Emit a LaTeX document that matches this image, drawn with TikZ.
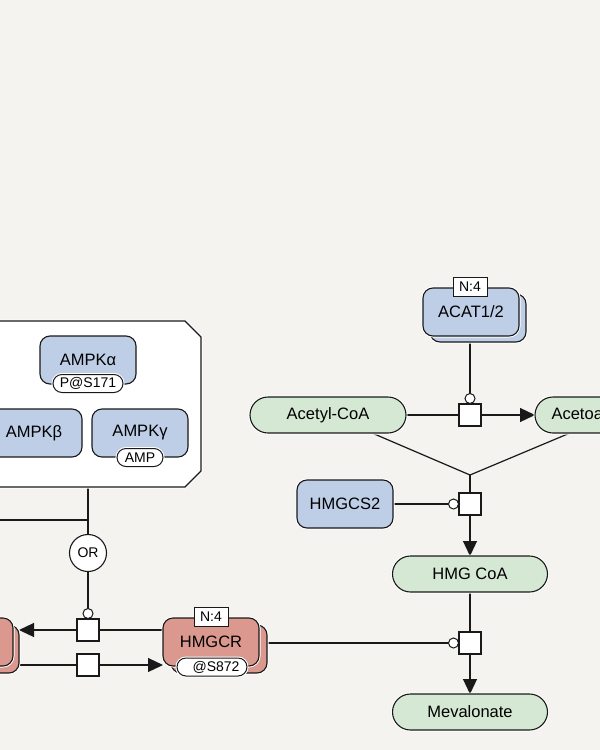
\documentclass[tikz,border=0pt]{standalone}
\usepackage{fontspec}
\setmainfont{Liberation Sans}
\usetikzlibrary{arrows.meta,shapes.misc,backgrounds,calc}
\definecolor{bgc}{RGB}{244,243,240}
\definecolor{bluef}{RGB}{189,206,230}
\definecolor{greenf}{RGB}{212,232,212}
\definecolor{redf}{RGB}{219,152,142}
\definecolor{strk}{RGB}{25,25,25}
\begin{document}
\begin{tikzpicture}[x=1pt,y=-1pt,
  every node/.style={inner sep=0pt, outer sep=0pt, font=\fontsize{16.5}{19}\selectfont, text=black},
  halo/.style={preaction={draw=white,line width=3pt}},
  macro/.style={draw=strk, line width=1.1pt, rounded corners=10pt, minimum width=96pt, minimum height=48pt, halo},
  protein/.style={macro, fill=bluef},
  enzyme/.style={macro, fill=redf},
  metab/.style={draw=strk, line width=1.1pt, rounded rectangle, fill=greenf, minimum width=156pt, minimum height=36pt, halo},
  svar/.style={draw=strk, line width=1pt, rounded rectangle, fill=white, minimum width=70pt, minimum height=18pt, font=\fontsize{14}{16}\selectfont, halo},
  ulabel/.style={draw=strk, line width=1pt, fill=white, minimum width=34pt, minimum height=19pt, font=\fontsize{14}{16}\selectfont},
  procbox/.style={draw=strk, line width=1.1pt, fill=white, minimum size=22pt},
  logic/.style={draw=strk, line width=1.1pt, circle, fill=white, minimum size=37pt, font=\fontsize{14}{16}\selectfont},
  conn/.style={draw=strk, line width=1.2pt},
  prod/.style={conn, -{Triangle[length=15pt,width=14pt]}},
  catal/.style={conn, -{Circle[length=11pt,fill=white,line width=1pt]}},
]
\begin{scope}[on background layer]
\fill[bgc] (0,0) rectangle (600,750);
\end{scope}
\useasboundingbox (0,0) rectangle (600,750);

% complex
\draw[draw=strk, line width=1.1pt, fill=white, halo] (-10,321) -- (185,321) -- (201,337) -- (201,471) -- (185,487) -- (-10,487) -- cycle;
\coordinate (cx) at (88,487);
\node[protein] (ampka) at (88,360) {AMPKα};
\node[svar] (ampkasv) at (88,383.5) {P@S171};
\node[protein] (ampkb) at (34,433) {AMPKβ};
\node[protein] (ampkg) at (140,433) {AMPKγ};
\node[svar, minimum width=46pt] (ampkgsv) at (140,457.5) {AMP};

% logic
\node[logic] (or) at (88,553) {OR};
\coordinate (j1) at (88,520);
\coordinate (lft1) at (-5,520);

% process nodes
\node[procbox] (p1) at (470,415) {};
\node[procbox] (p2) at (470,504) {};
\node[procbox] (p3) at (470,643) {};
\node[procbox] (p4) at (88,630) {};
\node[procbox] (p5) at (88,665) {};
\coordinate (j2) at (470,475);

% left enzyme multimer
\node[enzyme] (leftb) at (-29,649) {};
\node[enzyme] (left) at (-35,642) {};

% HMGCR
\node[enzyme] (hmgcrb) at (219,649) {};
\node[enzyme] (hmgcr) at (211,642) {HMGCR};
\node[ulabel] (hmgcrn) at (211,617) {N:4};
\node[svar] (hmgcrsv) at (212,667) {\hspace{8pt}@S872};

% ACAT
\node[protein] (acatb) at (478,318) {};
\node[protein] (acat) at (471,312) {ACAT1/2};
\node[ulabel] (acatn) at (470,287) {N:4};

% metabolites
\node[metab] (acetyl) at (328,415) {Acetyl-CoA};
\node[metab] (acetoac) at (613,415) {Acetoacetyl-CoA};
\node[protein] (hmgcs2) at (345,504) {HMGCS2};
\node[metab, minimum width=155pt] (hmgcoa) at (470,574) {HMG CoA};
\node[metab, minimum width=155pt] (meval) at (470,712) {Mevalonate};

% connectors
\begin{scope}[on background layer]
\draw[conn] (acetyl.east) -- (p1.west);
\draw[prod] (p1.east) -- (acetoac.west);
\draw[catal] (p1.north |- acatb.south) -- (p1.north);
\draw[conn] ($(acetyl.south)+(44,0)$) -- (j2);
\draw[conn] ($(acetoac.south)+(-43,0)$) -- (j2);
\draw[conn] (j2) -- (p2.north);
\draw[prod] (p2.south) -- (hmgcoa.north);
\draw[catal] (hmgcs2.east) -- (p2.west);
\draw[conn] (hmgcoa.south) -- (p3.north);
\draw[prod] (p3.south) -- (meval.north);
\draw[catal] (p3.west -| hmgcrb.east) -- (p3.west);
\draw[conn] (p4.east) -- (p4.east -| hmgcr.west);
\draw[prod] (p4.west) -- (p4.west -| leftb.east);
\draw[conn] (p5.west -| leftb.east) -- (p5.west);
\draw[prod] (p5.east) -- (p5.east -| hmgcr.west);
\draw[conn] (cx) -- (or.north);
\draw[conn] (lft1) -- (j1);
\draw[catal] (or.south) -- (p4.north);
\end{scope}
\end{tikzpicture}
\end{document}
